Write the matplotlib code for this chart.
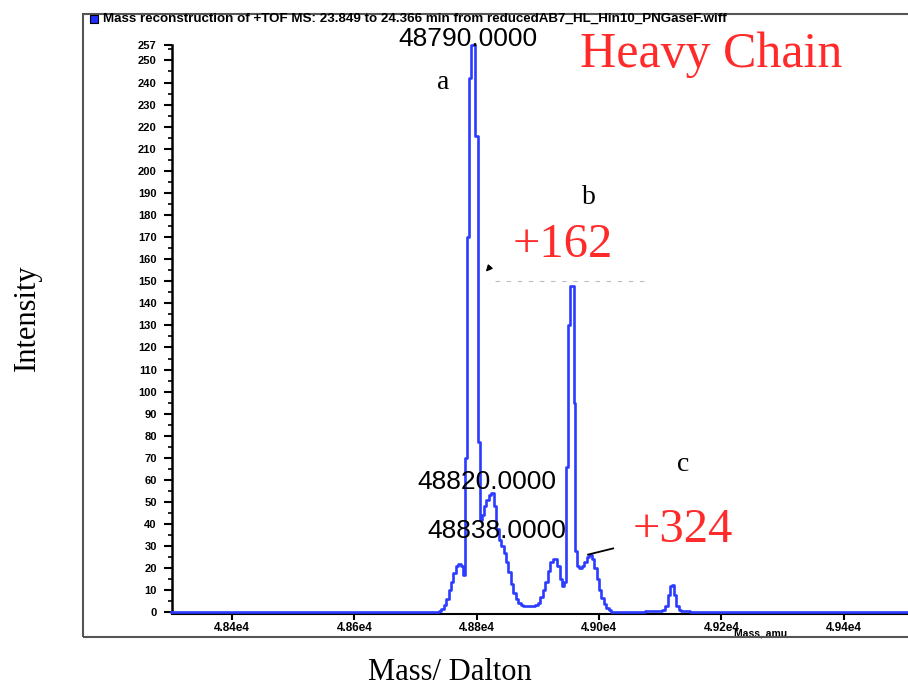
import matplotlib
matplotlib.use("Agg")
import matplotlib.pyplot as plt
from matplotlib.patches import Rectangle
from matplotlib.ticker import MultipleLocator

# ---- data ----
mass = [48300, 48736, 48740, 48744, 48748, 48752, 48756, 48760, 48764, 48768,
        48772, 48776, 48780, 48783, 48786, 48789, 48792, 48795, 48798, 48801,
        48804, 48807, 48810, 48814, 48818, 48822, 48826, 48830, 48834, 48838,
        48842, 48846, 48850, 48854, 48858, 48862, 48866, 48870, 48874, 48878,
        48882, 48886, 48890, 48894, 48898, 48902, 48906, 48910, 48914, 48918,
        48922, 48926, 48930, 48934, 48938, 48942, 48945, 48948, 48951, 48954,
        48957, 48960, 48963, 48966, 48970, 48974, 48978, 48982, 48986, 48990,
        48994, 48998, 49002, 49006, 49010, 49014, 49018, 49022, 49026, 49060,
        49090, 49100, 49106, 49110, 49114, 49118, 49121, 49124, 49128, 49132,
        49136, 49160, 49505]
intensity = [0, 0, 0.5, 1.5, 3.5, 6, 10, 14, 18, 21,
             22, 21, 17, 70, 170, 242, 257, 257, 216, 216,
             77, 42, 44, 48, 51, 53, 54, 48, 38, 33,
             30, 27, 23, 18.5, 13, 9, 6, 4.5, 3.5, 3,
             2.8, 2.8, 2.8, 3, 3.5, 4.5, 7, 10, 14, 19,
             23, 24, 24, 21, 15, 12, 14, 66, 130, 148,
             148, 95, 28, 21, 20, 21, 23, 25, 26, 24,
             20, 15, 10, 6.5, 4, 2, 1, 0.4, 0, 0,
             0.5, 0.6, 1, 3, 8, 12, 12.5, 8, 3, 1,
             0.5, 0, 0]

y_ticks = list(range(0, 251, 10)) + [257]
y_tick_labels = [str(v) for v in y_ticks]
x_ticks = [48400, 48600, 48800, 49000, 49200, 49400]
x_tick_labels = ["4.84e4", "4.86e4", "4.88e4", "4.90e4", "4.92e4", "4.94e4"]

peak_labels = ["48790.0000", "48820.0000", "48838.0000"]
peak_label_pos = [(48786, 259.5), (48817, 59.3), (48833, 36.7)]
letters = ["a", "b", "c"]
letter_pos = [(48746, 240), (48983, 188), (49137, 67)]
shifts = ["+162", "+324"]
shift_pos = [(48941, 166.5), (49137, 37.5)]

title_text = ("Mass reconstruction of +TOF MS: 23.849 to 24.366 min from "
              "reducedAB7_HL_Hin10_PNGaseF.wiff")

BLUE = "#2b3bff"
RED = "#ff2b2b"

fig = plt.figure(figsize=(9.08, 6.86), dpi=100)
W, H = 908.0, 686.0

# outer frame of the original screenshot
fig.patches.append(Rectangle((83 / W, 1 - 637 / H), 1.0, (637 - 14) / H,
                             transform=fig.transFigure, fill=False,
                             edgecolor="#555555", lw=1.5))
# title bar
fig.patches.append(Rectangle((90 / W, 1 - 23 / H), 8 / W, 8 / H,
                             transform=fig.transFigure, facecolor="#1f2fff",
                             edgecolor="black", lw=0.8))
fig.text(103 / W, 1 - 18.5 / H, title_text, fontsize=9.6, fontweight="bold",
         family="Liberation Sans", va="center", ha="left")

ax = fig.add_axes([172 / W, 72 / H, 736 / W, 569 / H])
ax.plot(mass, intensity, drawstyle="steps-mid", color=BLUE, lw=1.9,
        zorder=3, clip_on=False)
ax.set_xlim(48302, 49505)
ax.set_ylim(-0.7, 257)

for s in ["top", "right"]:
    ax.spines[s].set_visible(False)
ax.spines["left"].set_linewidth(1.8)
ax.spines["bottom"].set_linewidth(1.5)
ax.spines["left"].set_bounds(0, 257)

ax.set_yticks(y_ticks)
ax.set_yticklabels(y_tick_labels, fontsize=8, fontweight="bold",
                   family="Liberation Sans")
ax.yaxis.set_minor_locator(MultipleLocator(5))
ax.tick_params(axis="y", which="major", direction="out", length=6, width=1.5, pad=5)
ax.tick_params(axis="y", which="minor", direction="out", length=3, width=1.2)

ax.set_xticks(x_ticks)
ax.set_xticklabels(x_tick_labels, fontsize=8.5, fontweight="bold",
                   family="Liberation Sans")
ax.tick_params(axis="x", which="major", direction="out", length=4, width=1.5, pad=2)

ax.text(0.80, -0.034, "Mass, amu", transform=ax.transAxes, fontsize=7.5,
        fontweight="bold", family="Liberation Sans", ha="center", va="center")

# software peak labels
for lab, (x, y) in zip(peak_labels, peak_label_pos):
    ax.text(x, y, lab, fontsize=19, family="Liberation Sans", ha="center",
            va="center", clip_on=False, zorder=4)

# small annotation marks
ax.annotate("", xy=(48812, 153.4), xytext=(48825, 157.5),
            arrowprops=dict(arrowstyle="-|>", color="black", lw=1,
                            mutation_scale=9))
ax.plot([48830, 49080], [150, 150], color="#bbbbbb", lw=0.8,
        ls=(0, (4, 6)), zorder=2)
ax.plot([48982, 49023], [26.2, 29], color="black", lw=1.3, zorder=4)

# added labels
for lab, (x, y) in zip(letters, letter_pos):
    ax.text(x, y, lab, fontsize=20, family="Liberation Serif", ha="center",
            va="center", color="black", clip_on=False)
for lab, (x, y) in zip(shifts, shift_pos):
    ax.text(x, y, lab, fontsize=35, family="Liberation Serif", ha="center",
            va="center", color=RED, clip_on=False)
ax.text(49184, 252.5, "Heavy Chain", fontsize=36, family="Liberation Serif",
        ha="center", va="center", color=RED, clip_on=False)

fig.text(27 / W, 1 - 318 / H, "Intensity", rotation=90, fontsize=22,
         family="Liberation Serif", ha="center", va="center")
fig.text(450 / W, 1 - 672 / H, "Mass/ Dalton", fontsize=22,
         family="Liberation Serif", ha="center", va="center")

fig.savefig("out.png", dpi=100)
